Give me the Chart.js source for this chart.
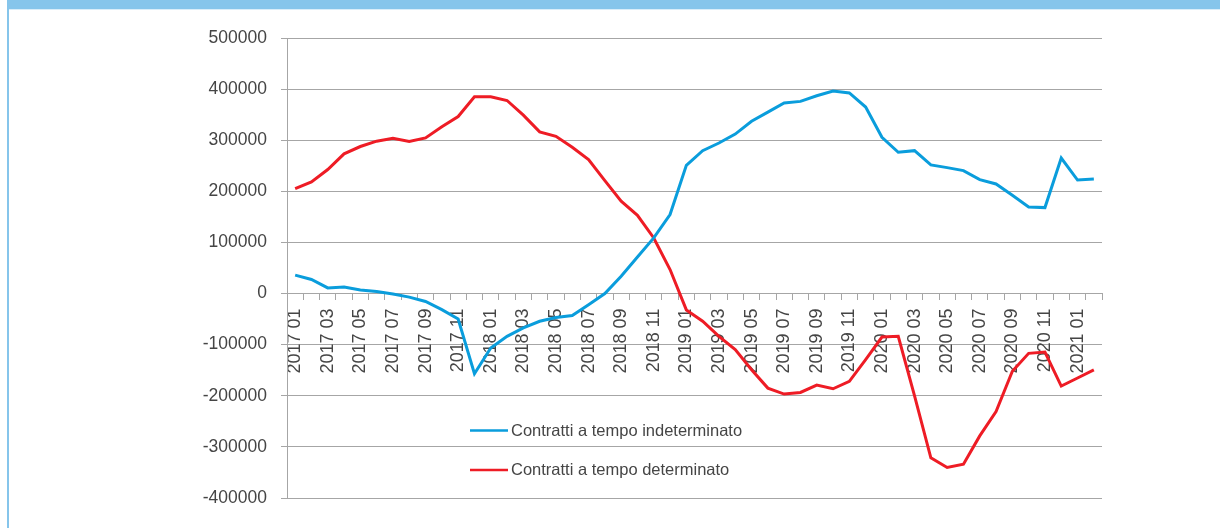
<!DOCTYPE html>
<html>
<head>
<meta charset="utf-8">
<script src="https://cdn.jsdelivr.net/npm/chart.js@4.4.1/dist/chart.umd.min.js"></script>
<style>
  html, body { margin: 0; padding: 0; background: #ffffff; }
  body { width: 1220px; height: 528px; position: relative; overflow: hidden; }
  #frame { position: absolute; left: 7px; top: 0; width: 1213px; height: 528px;
           border-top: 9px solid #86c5eb; border-left: 2px solid #86c5eb; box-sizing: border-box; }
  #frame:after { content: ""; position: absolute; left: 0; right: 0; top: 0; height: 1px; background: #d9edf9; }
  #c { position: absolute; left: 0; top: 0; }
</style>
</head>
<body>
<div id="frame"></div>
<canvas id="c" width="1220" height="528"></canvas>
<script>
const categories = [
  "2017 01","2017 02","2017 03","2017 04","2017 05","2017 06","2017 07","2017 08","2017 09","2017 10","2017 11","2017 12",
  "2018 01","2018 02","2018 03","2018 04","2018 05","2018 06","2018 07","2018 08","2018 09","2018 10","2018 11","2018 12",
  "2019 01","2019 02","2019 03","2019 04","2019 05","2019 06","2019 07","2019 08","2019 09","2019 10","2019 11","2019 12",
  "2020 01","2020 02","2020 03","2020 04","2020 05","2020 06","2020 07","2020 08","2020 09","2020 10","2020 11","2020 12",
  "2021 01","2021 02"
];

const seriesNames = ["Contratti a tempo indeterminato", "Contratti a tempo determinato"];

const indeterminato = [
  36000, 27500, 11100, 13000, 7000, 3800, -1000, -7000, -15500, -31400, -49700, -156900,
  -106500, -83700, -67300, -54200, -47000, -43000, -22000, 0, 34000, 71700, 108800, 154500,
  251000, 279500, 294500, 312000, 337000, 355000, 372800, 376000, 387000, 396300, 392500, 365000,
  305700, 276400, 279600, 251600, 246400, 240500, 223000, 214400, 192300, 169500, 168200, 265200,
  222100, 224100
];

const determinato = [
  205500, 218500, 242700, 273300, 287700, 298100, 304000, 297500, 304600, 326200, 346400, 384900,
  384900, 377700, 349000, 316400, 307700, 286200, 262000, 221000, 180600, 153200, 108800, 47000,
  -32000, -54200, -83700, -109800, -149000, -185000, -196700, -193500, -179100, -186300, -171900, -129400,
  -85000, -83600, -200000, -321300, -340300, -334000, -278500, -231000, -152000, -117000, -114500, -181000,
  -165200, -149500
];

const yMin = -400000, yMax = 500000, yStep = 100000;

const FONT = "'Liberation Sans', Arial, Helvetica, sans-serif";
const TEXT = "#454545";
const GRID = "#a6a6a6";
const BLUE = "#0a9ddc";
const RED = "#ee1c25";

const legendPlugin = {
  id: "insideLegend",
  afterDraw(chart) {
    const ctx = chart.ctx;
    const rows = [430.5, 470];
    ctx.save();
    chart.data.datasets.forEach((ds, i) => {
      const y = rows[i];
      ctx.strokeStyle = ds.borderColor;
      ctx.lineWidth = 2.5;
      ctx.beginPath();
      ctx.moveTo(470, y);
      ctx.lineTo(508, y);
      ctx.stroke();
      ctx.fillStyle = TEXT;
      ctx.font = "16.5px " + FONT;
      ctx.textAlign = "left";
      ctx.textBaseline = "middle";
      ctx.fillText(ds.label, 511, y + 0.5);
    });
    ctx.restore();
  }
};

new Chart(document.getElementById("c"), {
  type: "line",
  data: {
    labels: categories,
    datasets: [
      { label: seriesNames[0], data: indeterminato, borderColor: BLUE, backgroundColor: BLUE,
        borderWidth: 3, pointRadius: 0, tension: 0, fill: false },
      { label: seriesNames[1], data: determinato, borderColor: RED, backgroundColor: RED,
        borderWidth: 3, pointRadius: 0, tension: 0, fill: false }
    ]
  },
  options: {
    responsive: false,
    animation: false,
    devicePixelRatio: 1,
    layout: { padding: { left: 0, top: 38, right: 118, bottom: 30 } },
    plugins: { legend: { display: false }, tooltip: { enabled: false } },
    scales: {
      x: {
        type: "category",
        position: { y: 0 },
        offset: true,
        grid: { drawOnChartArea: false, drawTicks: true, tickLength: 6, color: GRID, offset: true },
        border: { color: GRID, width: 1 },
        ticks: {
          autoSkip: false, maxRotation: 90, minRotation: 90, padding: 9,
          color: TEXT, font: { family: FONT, size: 18 },
          callback: function(v, i) { return i % 2 === 0 ? categories[i] : ""; }
        }
      },
      y: {
        min: yMin, max: yMax,
        grid: { color: GRID, lineWidth: 1, tickLength: 6 },
        border: { color: GRID, width: 1 },
        ticks: {
          stepSize: yStep, padding: 14, color: TEXT,
          font: { family: FONT, size: 17.5 },
          callback: function(v) { return String(v); }
        },
        afterFit: function(scale) { scale.width = 287; }
      }
    }
  },
  plugins: [legendPlugin]
});
</script>
</body>
</html>
